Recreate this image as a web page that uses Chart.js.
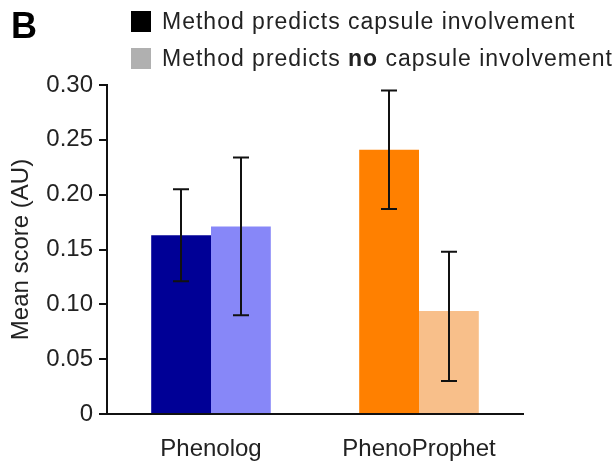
<!DOCTYPE html>
<html>
<head>
<meta charset="utf-8">
<script src="https://cdn.jsdelivr.net/npm/chart.js@4"></script>
<style>
    html, body { margin: 0; padding: 0; background: #fff; }
    #wrap { position: relative; width: 613px; height: 462px; font-family: 'Liberation Sans', Arial, sans-serif; }
    #chart { position: absolute; left: 0; top: 0; }
    .panel { position: absolute; left: 11px; top: 8px; font-size: 36px; font-weight: bold; line-height: 36px; color: #000; }
    .legend-row { position: absolute; left: 131px; height: 23px; font-size: 23px; line-height: 23px; color: #222; white-space: nowrap; letter-spacing: 1px; }
    .legend-row .box { position: absolute; left: 0; top: 1px; width: 20px; height: 21px; }
    .legend-row .txt { position: absolute; left: 31px; top: 0; }
</style>
</head>
<body>
<div id="wrap">
    <canvas id="chart" width="613" height="462"></canvas>
    <div class="panel">B</div>
    <div class="legend-row" style="top: 10px;"><span class="box" style="background:#000;"></span><span class="txt">Method predicts capsule involvement</span></div>
    <div class="legend-row" style="top: 47px;"><span class="box" style="background:#b0b0b0;"></span><span class="txt">Method predicts <b>no</b> capsule involvement</span></div>
</div>
<script>
const categories = ['Phenolog', 'PhenoProphet'];

// mean score, method predicts capsule involvement
const capsuleMeans = [0.163, 0.241];
const capsuleErrLow = [0.121, 0.187];
const capsuleErrHigh = [0.205, 0.295];

// mean score, method predicts no capsule involvement
const noCapsuleMeans = [0.171, 0.094];
const noCapsuleErrLow = [0.090, 0.030];
const noCapsuleErrHigh = [0.234, 0.148];

const yTicks = [0, 0.05, 0.10, 0.15, 0.20, 0.25, 0.30];

const capsuleColors = ['#000096', '#ff8000'];
const noCapsuleColors = ['#8787f8', '#f8bf8a'];

// error bars drawn from the bar elements and the y scale
const errorBars = {
    id: 'errorBars',
    afterDatasetsDraw(chart) {
        const ctx = chart.ctx;
        const y = chart.scales.y;
        const ranges = [[capsuleErrLow, capsuleErrHigh], [noCapsuleErrLow, noCapsuleErrHigh]];
        ctx.save();
        ctx.strokeStyle = '#111';
        ctx.lineWidth = 2;
        ranges.forEach(([lo, hi], di) => {
            chart.getDatasetMeta(di).data.forEach((bar, i) => {
                const x = Math.round(bar.x);
                const yLo = y.getPixelForValue(lo[i]);
                const yHi = y.getPixelForValue(hi[i]);
                ctx.beginPath();
                ctx.moveTo(x, yLo);
                ctx.lineTo(x, yHi);
                ctx.moveTo(x - 8, yLo);
                ctx.lineTo(x + 8, yLo);
                ctx.moveTo(x - 8, yHi);
                ctx.lineTo(x + 8, yHi);
                ctx.stroke();
            });
        });
        ctx.restore();
    }
};

Chart.defaults.font.family = "'Liberation Sans', Arial, sans-serif";
Chart.defaults.color = '#222';

new Chart(document.getElementById('chart').getContext('2d'), {
    type: 'bar',
    data: {
        labels: categories,
        datasets: [{
            label: 'Method predicts capsule involvement',
            data: capsuleMeans,
            backgroundColor: capsuleColors
        }, {
            label: 'Method predicts no capsule involvement',
            data: noCapsuleMeans,
            backgroundColor: noCapsuleColors
        }]
    },
    options: {
        responsive: false,
        animation: false,
        layout: { padding: { top: 85, right: 90, bottom: 0, left: 0 } },
        datasets: { bar: { barPercentage: 1, categoryPercentage: 0.575 } },
        plugins: {
            legend: { display: false },
            tooltip: { enabled: false }
        },
        scales: {
            x: {
                grid: { display: false },
                border: { color: '#111', width: 2 },
                ticks: { font: { size: 24 }, padding: 13 },
                afterFit: (scale) => { scale.height = 48; }
            },
            y: {
                min: 0,
                max: 0.30,
                afterBuildTicks: (scale) => { scale.ticks = yTicks.map(v => ({ value: v })); },
                grid: { drawOnChartArea: false, drawTicks: true, tickLength: 8, color: '#111', lineWidth: 2 },
                border: { color: '#111', width: 2 },
                ticks: {
                    font: { size: 24 },
                    padding: 6,
                    callback: (v) => v === 0 ? '0' : v.toFixed(2)
                },
                title: {
                    display: true,
                    text: 'Mean score (AU)',
                    font: { size: 24 },
                    padding: { top: 7, bottom: 0 }
                },
                afterFit: (scale) => { scale.width = 107; }
            }
        }
    },
    plugins: [errorBars]
});
</script>
</body>
</html>
